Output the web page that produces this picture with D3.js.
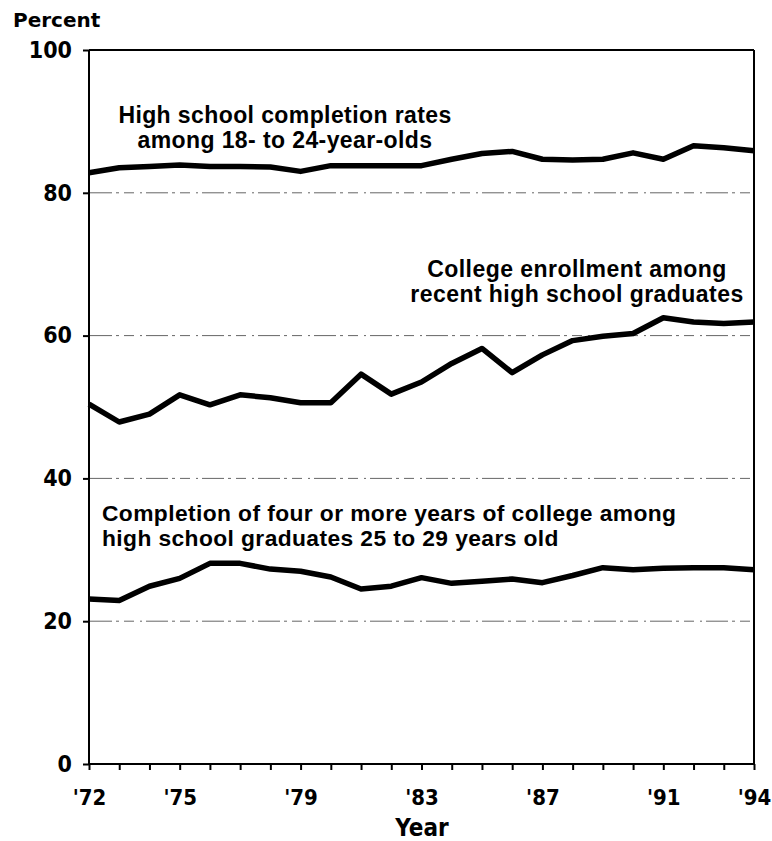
<!DOCTYPE html>
<html>
<head>
<meta charset="utf-8">
<script src="https://cdn.jsdelivr.net/npm/d3@7"></script>
<style>
  body { margin: 0; background: #fff; }
  svg { display: block; }
</style>
</head>
<body>
<svg id="chart" width="772" height="841"></svg>
<script>
const years = d3.range(1972, 1995);
const yearLabels = [1972, 1975, 1979, 1983, 1987, 1991, 1994];
const yTicks = [0, 20, 40, 60, 80, 100];

const highSchoolCompletion = [82.8, 83.5, 83.7, 83.9, 83.7, 83.7, 83.6, 83.0, 83.8, 83.8, 83.8, 83.8,
  84.7, 85.5, 85.8, 84.7, 84.6, 84.7, 85.6, 84.7, 86.6, 86.3, 85.9];
const collegeEnrollment = [50.4, 47.9, 49.0, 51.7, 50.3, 51.7, 51.3, 50.6, 50.6, 54.6, 51.8, 53.5,
  56.1, 58.2, 54.8, 57.3, 59.3, 59.9, 60.3, 62.5, 61.9, 61.7, 61.9];
const collegeCompletion = [23.1, 22.9, 24.9, 26.0, 28.1, 28.1, 27.3, 27.0, 26.2, 24.5, 24.9, 26.1,
  25.3, 25.6, 25.9, 25.4, 26.4, 27.5, 27.2, 27.4, 27.5, 27.5, 27.2];

const seriesNames = ["hs", "enroll", "college"];
const seriesValues = [highSchoolCompletion, collegeEnrollment, collegeCompletion];

const annotations = [
  { lines: ["High school completion rates", "among 18- to 24-year-olds"], x: 285, y: 123, anchor: "middle", size: 23, ls: 0.4 },
  { lines: ["College enrollment among", "recent high school graduates"], x: 577, y: 277, anchor: "middle", size: 23, ls: 0.45 },
  { lines: ["Completion of four or more years of college among", "high school graduates 25 to 29 years old"], x: 102, y: 521, anchor: "start", size: 22.8, ls: 0.4 }
];

const svg = d3.select("#chart");
const m = { left: 89, right: 754, top: 50, bottom: 764 };

const x = d3.scaleLinear().domain([1972, 1994]).range([m.left, m.right]);
const y = d3.scaleLinear().domain([0, 100]).range([m.bottom, m.top]);

// gridlines
svg.append("g")
  .selectAll("line")
  .data([20, 40, 60, 80])
  .join("line")
  .attr("x1", m.left + 1).attr("x2", m.right - 1)
  .attr("y1", d => y(d)).attr("y2", d => y(d))
  .attr("stroke", "#666")
  .attr("stroke-width", 1)
  .attr("stroke-dasharray", "22 4 3 5 10 6 2 4");

// box top and right
svg.append("line")
  .attr("x1", m.left).attr("x2", m.right)
  .attr("y1", m.top).attr("y2", m.top)
  .attr("stroke", "#000").attr("stroke-width", 2);
svg.append("line")
  .attr("x1", m.right).attr("x2", m.right)
  .attr("y1", m.top).attr("y2", m.bottom)
  .attr("stroke", "#000").attr("stroke-width", 2);

// y axis
const yAxis = svg.append("g")
  .attr("transform", `translate(${m.left},0)`)
  .call(d3.axisLeft(y).tickValues(yTicks).tickSize(6).tickPadding(11).tickFormat(d3.format("d")));
yAxis.select(".domain").attr("stroke", "#000").attr("stroke-width", 2).attr("d", `M0,${m.top}V${m.bottom}`);
yAxis.selectAll(".tick line").attr("stroke", "#000").attr("stroke-width", 2);
yAxis.selectAll(".tick text")
  .attr("font-family", "'DejaVu Sans Condensed', 'DejaVu Sans'")
  .attr("font-weight", "bold")
  .attr("font-size", 23)
  .attr("fill", "#000");

// x axis
const xAxis = svg.append("g")
  .attr("transform", `translate(0,${m.bottom})`)
  .call(d3.axisBottom(x).tickValues(years).tickSize(6).tickPadding(19)
    .tickFormat(d => yearLabels.includes(d) ? "'" + String(d).slice(2) : ""));
xAxis.select(".domain").attr("stroke", "#000").attr("stroke-width", 2).attr("d", `M${m.left},0H${m.right}`);
xAxis.selectAll(".tick line").attr("stroke", "#000").attr("stroke-width", 2);
xAxis.selectAll(".tick text")
  .attr("font-family", "'DejaVu Sans Condensed', 'DejaVu Sans'")
  .attr("font-weight", "bold")
  .attr("font-size", 22)
  .attr("fill", "#000");

// lines
const line = d3.line().x((d, i) => x(years[i])).y(d => y(d));
svg.append("g")
  .selectAll("path")
  .data(seriesValues)
  .join("path")
  .attr("class", (d, i) => "series " + seriesNames[i])
  .attr("d", line)
  .attr("fill", "none")
  .attr("stroke", "#000")
  .attr("stroke-width", 5.5)
  .attr("stroke-linejoin", "round");

// annotations
annotations.forEach(a => {
  a.lines.forEach((l, i) => {
    svg.append("text")
      .attr("x", a.x).attr("y", a.y + i * 25)
      .attr("text-anchor", a.anchor)
      .attr("font-family", "'Liberation Sans', Arial, sans-serif")
      .attr("font-weight", "bold")
      .attr("font-size", a.size)
      .attr("letter-spacing", a.ls)
      .attr("fill", "#000")
      .text(l);
  });
});

// axis titles
svg.append("text")
  .attr("x", 13).attr("y", 27)
  .attr("font-family", "'DejaVu Sans', sans-serif")
  .attr("font-weight", "bold")
  .attr("font-size", 20)
  .attr("fill", "#000")
  .text("Percent");

svg.append("text")
  .attr("x", 422).attr("y", 836)
  .attr("text-anchor", "middle")
  .attr("font-family", "'DejaVu Sans Condensed', 'DejaVu Sans'")
  .attr("font-weight", "bold")
  .attr("font-size", 24)
  .attr("fill", "#000")
  .text("Year");
</script>
</body>
</html>
